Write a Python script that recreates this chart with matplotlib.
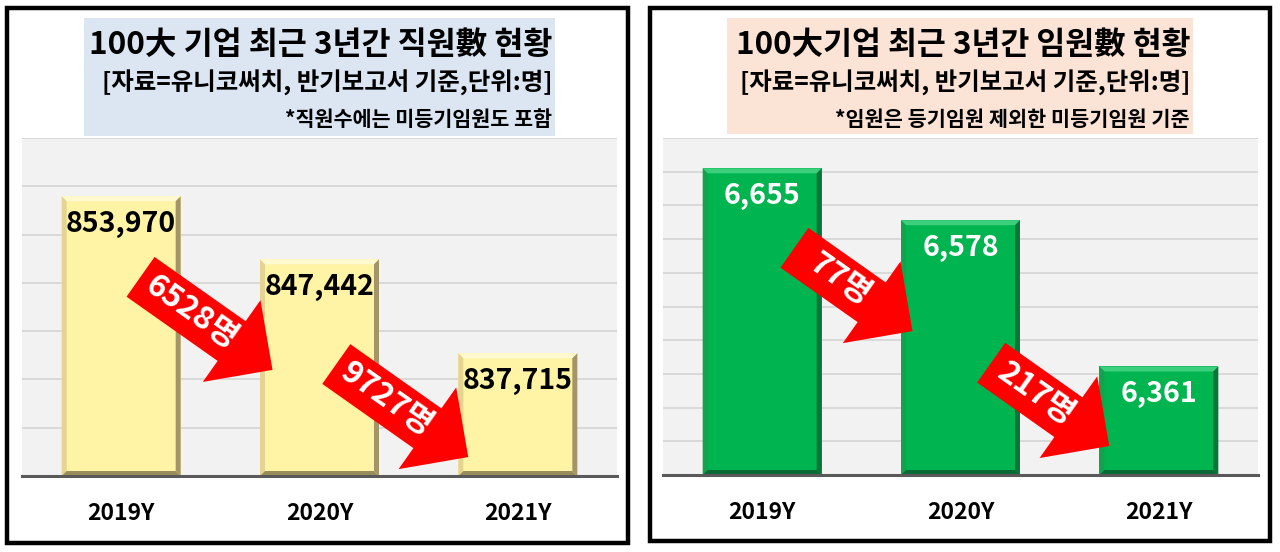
import math
import matplotlib
matplotlib.use("Agg")
import matplotlib.pyplot as plt
from matplotlib.patches import Rectangle, Polygon

plt.rcParams['font.family'] = ['Noto Sans CJK KR', 'DejaVu Sans']

# data
years = ['2019Y', '2020Y', '2021Y']
staff = [853970, 847442, 837715]
execs = [6655, 6578, 6361]
staff_drop = ['6528명', '9727명']
exec_drop = ['77명', '217명']

W, H = 1280, 552
fig = plt.figure(figsize=(W / 100, H / 100), dpi=100)
fig.patch.set_facecolor('white')


def px_rect(x0, y0, x1, y1):
    # pixel box (top-left origin) -> figure fraction [left, bottom, width, height]
    return [x0 / W, 1 - y1 / H, (x1 - x0) / W, (y1 - y0) / H]


def fit_width(t, target):
    r = fig.canvas.get_renderer()
    w = t.get_window_extent(r).width
    t.set_fontsize(t.get_fontsize() * target / w)


def draw_panel(box, axbox, headbox, headcolor, heads, widths, values, ylim, step,
               colors, labcolor, drops, tips, offset):
    # black frame
    l, b, w, h = px_rect(*box)
    fig.add_artist(Rectangle((l, b), w, h, transform=fig.transFigure,
                             fill=False, ec='black', lw=3.2, zorder=5))
    # header box with the titles
    l, b, w, h = px_rect(*headbox)
    fig.add_artist(Rectangle((l, b), w, h, transform=fig.transFigure,
                             fc=headcolor, ec='none', zorder=1))
    right = (headbox[2] - 3) / W
    for (txt, ypx, size), tw in zip(heads, widths):
        t = fig.text(right, 1 - ypx / H, txt, ha='right', va='center',
                     fontsize=size, fontweight='bold', color='black', zorder=3)
        fit_width(t, tw)

    ax = fig.add_axes(px_rect(*axbox))
    ax.set_facecolor('#f2f2f2')
    x = list(range(len(years)))
    ymin, ymax = ylim
    ax.set_xlim(-0.5, len(years) - 0.5)
    ax.set_ylim(ymin, ymax)
    ax.set_yticks(range(ymin, ymax + 1, step))
    ax.yaxis.grid(True, color='#d4d4d4', lw=1.2)
    ax.set_axisbelow(True)
    ax.tick_params(axis='y', left=False, labelleft=False)
    ax.set_xticks(x)
    ax.set_xticklabels(years, fontsize=16.5, fontweight='bold')
    ax.tick_params(axis='x', length=0, pad=19)
    for s in ['top', 'left', 'right']:
        ax.spines[s].set_visible(False)
    ax.spines['bottom'].set_color('#595959')
    ax.spines['bottom'].set_linewidth(2.2)
    ax.spines['bottom'].set_zorder(4)

    face, top, left, rgt, bot = colors
    bars = ax.bar(x, [v - ymin for v in values], bottom=ymin, width=0.6,
                  color=face, zorder=2)

    # bevel edges, 5 px wide
    fig.canvas.draw()
    p0 = ax.transData.transform((0, ymin))
    p1 = ax.transData.transform((1, ymin + step))
    bx = 5 / (p1[0] - p0[0])
    by = 5 / ((p1[1] - p0[1]) / step)
    for bar in bars:
        x0, y0 = bar.get_x(), bar.get_y()
        x1, y1 = x0 + bar.get_width(), y0 + bar.get_height()
        faces = [
            ([(x0, y1), (x1, y1), (x1 - bx, y1 - by), (x0 + bx, y1 - by)], top),
            ([(x0, y0), (x0, y1), (x0 + bx, y1 - by), (x0 + bx, y0 + by)], left),
            ([(x1, y0), (x1, y1), (x1 - bx, y1 - by), (x1 - bx, y0 + by)], rgt),
            ([(x0, y0), (x1, y0), (x1 - bx, y0 + by), (x0 + bx, y0 + by)], bot),
        ]
        for pts, c in faces:
            ax.add_patch(Polygon(pts, closed=True, fc=c, ec='none', zorder=2.5))

    for xi, v in zip(x, values):
        ax.annotate(f'{v:,}', xy=(xi, v), xytext=(0, -20), textcoords='offset points',
                    ha='center', va='center', fontsize=20.5, fontweight='bold',
                    color=labcolor, zorder=6)

    # red drop arrows between bars
    dx, dy = offset
    ang = math.degrees(math.atan2(-dy, -dx))
    for lab, (tx, ty) in zip(drops, tips):
        ax.annotate('', xy=(tx, ty), xycoords=('data', 'axes fraction'),
                    xytext=(dx, dy), textcoords='offset points',
                    arrowprops=dict(arrowstyle='simple,head_length=3.6,head_width=7.2,tail_width=3.5',
                                    mutation_scale=10, fc='#ff0000', ec='none',
                                    shrinkA=0, shrinkB=0), zorder=5)
        ax.annotate(lab, xy=(tx, ty), xycoords=('data', 'axes fraction'),
                    xytext=(0.62 * dx, 0.62 * dy), textcoords='offset points',
                    ha='center', va='center', rotation=ang, rotation_mode='anchor',
                    fontsize=23, fontweight='bold', color='white', zorder=6)
    return ax


draw_panel(box=(7, 8, 628, 543), axbox=(22, 138, 617, 476),
           headbox=(84, 18, 555, 136), headcolor='#dce6f2',
           heads=[('100大 기업 최근 3년간 직원數 현황', 45, 22),
                  ('[자료=유니코써치, 반기보고서 기준,단위:명]', 83, 18),
                  ('*직원수에는 미등기임원도 포함', 119, 13)],
           widths=[464, 451, 268],
           values=staff, ylim=(825000, 860000), step=5000,
           colors=('#fff3a6', '#fff9cf', '#e4d391', '#a39567', '#9a8d5c'),
           labcolor='black', drops=staff_drop,
           tips=[(0.763, 0.314), (1.75, 0.056)], offset=(-95, 67))

draw_panel(box=(650, 8, 1270, 541), axbox=(663, 138, 1258, 475),
           headbox=(727, 18, 1193, 134), headcolor='#fbe3d6',
           heads=[('100大기업 최근 3년간 임원數 현황', 45, 22),
                  ('[자료=유니코써치, 반기보고서 기준,단위:명]', 83, 18),
                  ('*임원은 등기임원 제외한 미등기임원 기준', 119, 13)],
           widths=[455, 450, 354],
           values=execs, ylim=(6200, 6700), step=50,
           colors=('#00b450', '#3ccf7c', '#14a24f', '#0b7439', '#0a6a35'),
           labcolor='white', drops=exec_drop,
           tips=[(0.758, 0.427), (1.75, 0.086)], offset=(-85, 60))

fig.savefig('out.png', dpi=100)
